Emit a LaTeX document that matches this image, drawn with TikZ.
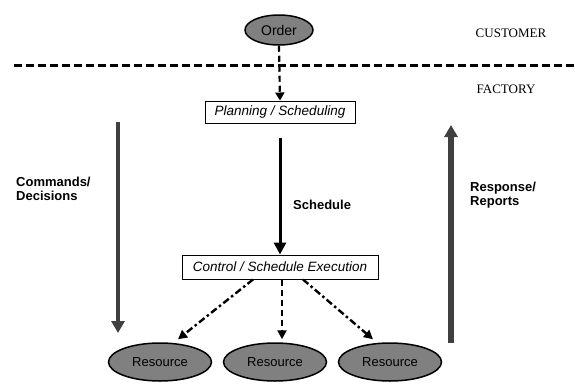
\documentclass[tikz,border=0pt]{standalone}
\usepackage{fontspec}
\setmainfont{Liberation Serif}
\setsansfont{Liberation Sans}
\usetikzlibrary{shapes.geometric,arrows.meta}
\definecolor{blobgray}{RGB}{128,128,128}
\definecolor{arrgray}{RGB}{64,64,64}
\begin{document}
\begin{tikzpicture}[x=1pt,y=-1pt,
  blob/.style={ellipse,draw=black,line width=1.5pt,fill=blobgray,inner sep=0pt,
    font=\sffamily\fontsize{13}{15}\selectfont},
  stepbox/.style={draw=black,line width=1pt,fill=white,inner sep=0pt,
    font=\sffamily\itshape\fontsize{13.5}{15}\selectfont},
  lbl/.style={font=\sffamily\bfseries\fontsize{13}{14}\selectfont,align=left,inner sep=0pt},
  zone/.style={font=\rmfamily\fontsize{13}{15}\selectfont,inner sep=0pt},
  dashdot/.style={dash pattern=on 7pt off 3pt on 2.5pt off 3pt},
]
\useasboundingbox (0,0) rectangle (575,383);

% customer / factory separation
\coordinate (sepL) at (14,65);
\coordinate (sepR) at (575,65);
\draw[line width=3pt,dash pattern=on 8pt off 4pt] (sepL) -- (sepR);
\node[zone] (cust) at (511,33) {CUSTOMER};
\node[zone] (fact) at (506,89) {FACTORY};

% nodes
\node[blob,minimum width=68pt,minimum height=30pt,font=\sffamily\fontsize{14}{16}\selectfont] (order) at (279,30) {Order};
\node[stepbox,minimum width=150pt,minimum height=22pt] (plan) at (280,112) {Planning / Scheduling};
\node[stepbox,minimum width=196pt,minimum height=24pt] (ctrl) at (280,267) {Control / Schedule Execution};
\node[blob,minimum width=103pt,minimum height=38pt] (r1) at (160,362) {Resource};
\node[blob,minimum width=103pt,minimum height=38pt] (r2) at (275,362) {Resource};
\node[blob,minimum width=103pt,minimum height=38pt] (r3) at (390,362) {Resource};

% order -> planning
\draw[line width=2.2pt,dash pattern=on 6pt off 4pt,-{Triangle[length=8pt,width=9pt]}]
  (order.south) -- (plan.north);

% planning -> control
\draw[line width=3pt,-{Triangle[length=12pt,width=12pt]}]
  ([yshift=-14pt]plan.south) -- (ctrl.north);
\node[lbl,anchor=west] (sched) at (293,205) {Schedule};

% control -> resources
\draw[line width=2.4pt,dashdot,-{Triangle[length=9pt,width=9pt]}]
  ([xshift=-27pt]ctrl.south) -- ([xshift=18pt,yshift=3pt]r1.north);
\draw[line width=2.4pt,dash pattern=on 6pt off 4pt,-{Triangle[length=9pt,width=9pt]}]
  ([xshift=2pt]ctrl.south) -- ([xshift=7pt,yshift=3pt]r2.north);
\draw[line width=2.4pt,dashdot,-{Triangle[length=9pt,width=9pt]}]
  ([xshift=23pt]ctrl.south) -- ([xshift=-17pt,yshift=3pt]r3.north);

% commands / decisions
\coordinate (cmdTop) at (118,122);
\coordinate (cmdBot) at (118,333);
\draw[arrgray,line width=3.5pt,-{Triangle[length=12pt,width=13pt]}] (cmdTop) -- (cmdBot);
\node[lbl,anchor=west] (cmd) at (16,189) {Commands/\\Decisions};

% response / reports
\coordinate (repBot) at (451,343);
\coordinate (repTop) at (451,125);
\draw[arrgray,line width=5.5pt,-{Triangle[length=12pt,width=13pt]}] (repBot) -- (repTop);
\node[lbl,anchor=west] (rep) at (470,195) {Response/\\Reports};
\end{tikzpicture}
\end{document}
